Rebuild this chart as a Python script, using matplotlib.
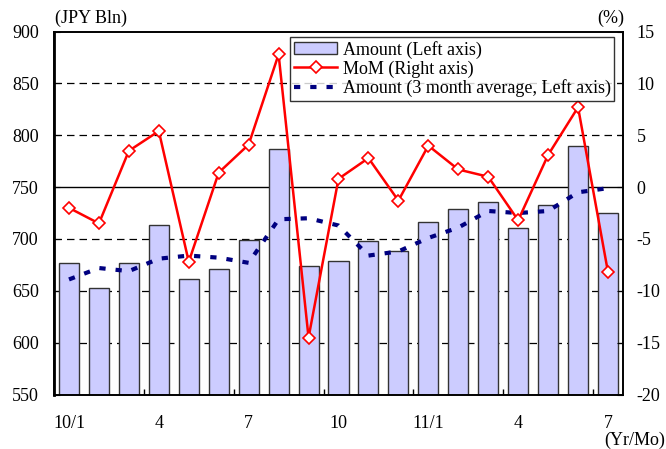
import matplotlib.pyplot as plt
import numpy as np

plt.rcParams['font.family'] = ['Liberation Serif', 'DejaVu Serif']
plt.rcParams['axes.unicode_minus'] = False

months = ['10/1', '2', '3', '4', '5', '6', '7', '8', '9', '10', '11', '12',
          '11/1', '2', '3', '4', '5', '6', '7']
amount = [677, 653, 677, 713, 661, 671, 699, 787, 674, 679, 698, 688,
          716, 729, 736, 711, 733, 790, 725]
mom = [-2.0, -3.5, 3.5, 5.4, -7.2, 1.4, 4.1, 12.8, -14.5, 0.8, 2.8, -1.3,
       4.0, 1.7, 1.0, -3.2, 3.1, 7.7, -8.2]
avg3 = [661, 672, 669, 681, 684, 682, 677, 719, 720, 713, 684, 688,
        701, 711, 727, 725, 727, 745, 749]
tick_labels = ['10/1', '4', '7', '10', '11/1', '4', '7']

x = np.arange(len(months))

fig = plt.figure(figsize=(6.66, 4.49), dpi=100)
ax = fig.add_axes([0.0811, 0.1212, 0.8543, 0.8086])
ax2 = ax.twinx()

# grid (dashed), solid line at 750 = 0% on right axis
for v in [600, 650, 700, 800, 850]:
    ax.axhline(v, color='black', lw=0.9, ls=(0, (6, 4)), zorder=0)
ax.axhline(750, color='black', lw=1.0, zorder=0)

bars = ax.bar(x, amount, width=0.67, color='#CCCCFF', edgecolor='#333333',
              lw=1.0, zorder=2, label='Amount (Left axis)')
line_avg, = ax.plot(x, avg3, color='#000080', lw=3, dashes=(1.5, 2.4),
                    zorder=3, label='Amount (3 month average, Left axis)')
line_mom, = ax2.plot(x, mom, color='red', lw=1.8, marker='D', ms=6.5,
                     mfc='white', mec='red', mew=1.2, zorder=4,
                     label='MoM (Right axis)')

ax.set_xlim(-0.5, len(x) - 0.5)
ax.set_ylim(550, 900)
ax.set_yticks(np.arange(550, 901, 50))
ax2.set_ylim(-20, 15)
ax2.set_yticks(np.arange(-20, 16, 5))

ax.set_xticks(np.arange(2.5, len(x) - 1, 3))
ax.set_xticklabels([])
ax.set_xticks(x[::3], minor=True)
ax.set_xticklabels(tick_labels, minor=True)
ax.tick_params(axis='x', which='major', direction='in', length=4, width=1)
ax.tick_params(axis='x', which='minor', length=0, pad=15, labelsize=13)
ax.tick_params(axis='y', direction='in', length=4, labelsize=13, pad=11)
ax2.tick_params(axis='y', direction='in', length=4, labelsize=13, pad=10)

for a in (ax, ax2):
    for s in a.spines.values():
        s.set_linewidth(1.2)
ax.spines['left'].set_linewidth(2)

ax2.set_zorder(ax.get_zorder() + 1)
ax.patch.set_visible(True)
ax2.patch.set_visible(False)

fig.text(0.083, 0.94, '(JPY Bln)', fontsize=13, ha='left', va='bottom')
fig.text(0.938, 0.94, '(%)', fontsize=13, ha='right', va='bottom')
fig.text(0.998, 0.0, '(Yr/Mo)', fontsize=13, ha='right', va='bottom')

leg = ax2.legend([bars, line_mom, line_avg],
                 ['Amount (Left axis)', 'MoM (Right axis)',
                  'Amount (3 month average, Left axis)'],
                 loc='upper right', bbox_to_anchor=(0.985, 0.985),
                 fontsize=13, frameon=True, fancybox=False, shadow=False,
                 borderpad=0.2, labelspacing=0.1, handlelength=2.4,
                 handletextpad=0.3, borderaxespad=0)
leg.get_frame().set_edgecolor('black')
leg.get_frame().set_linewidth(1.0)

fig.savefig('out.png', dpi=100)
